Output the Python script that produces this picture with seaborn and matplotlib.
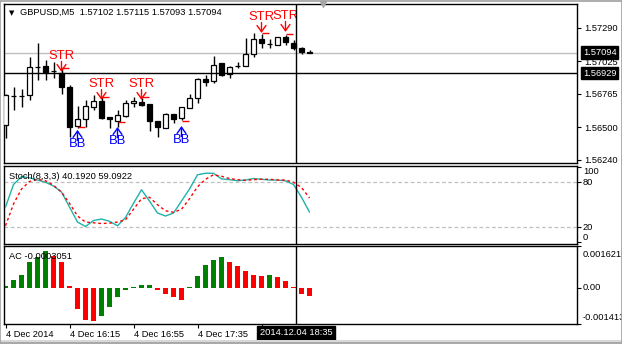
import numpy as np
import pandas as pd
import matplotlib
matplotlib.use("Agg")
import matplotlib.pyplot as plt
import matplotlib.transforms as mtrans
from matplotlib.patches import Rectangle
import seaborn as sns

# ---------------- data ----------------
bar_index = list(range(39))
opens = [1.56518, 1.56749, 1.56749, 1.56757, 1.56979, 1.56987, 1.56948, 1.56932, 1.56820, 1.56510,
         1.56566, 1.56661, 1.56709, 1.56582, 1.56550, 1.56590, 1.56693, 1.56701, 1.56685, 1.56550,
         1.56494, 1.56606, 1.56574, 1.56653, 1.56733, 1.56884, 1.56868, 1.57011, 1.56924, 1.56987,
         1.56987, 1.57083, 1.57202, 1.57162, 1.57154, 1.57218, 1.57170, 1.57130, 1.57102]
highs = [1.56765, 1.56820, 1.56804, 1.57059, 1.57170, 1.57035, 1.57019, 1.56971, 1.56836, 1.56669,
         1.56717, 1.56757, 1.56741, 1.56582, 1.56638, 1.56717, 1.56741, 1.56733, 1.56685, 1.56550,
         1.56614, 1.56606, 1.56661, 1.56765, 1.56892, 1.56916, 1.57067, 1.57011, 1.56987, 1.57019,
         1.57210, 1.57250, 1.57242, 1.57202, 1.57218, 1.57234, 1.57194, 1.57138, 1.57115]
lows = [1.56415, 1.56638, 1.56661, 1.56717, 1.56876, 1.56876, 1.56892, 1.56765, 1.56423, 1.56494,
        1.56502, 1.56638, 1.56566, 1.56494, 1.56502, 1.56582, 1.56661, 1.56669, 1.56471, 1.56423,
        1.56494, 1.56534, 1.56558, 1.56653, 1.56693, 1.56828, 1.56852, 1.56908, 1.56892, 1.56971,
        1.56987, 1.57059, 1.57130, 1.57130, 1.57154, 1.57154, 1.57115, 1.57083, 1.57093]
closes = [1.56757, 1.56751, 1.56747, 1.56979, 1.56981, 1.56940, 1.56946, 1.56820, 1.56502, 1.56566,
          1.56669, 1.56709, 1.56574, 1.56566, 1.56598, 1.56693, 1.56709, 1.56677, 1.56550, 1.56502,
          1.56606, 1.56566, 1.56661, 1.56733, 1.56884, 1.56860, 1.56995, 1.56916, 1.56979, 1.56989,
          1.57083, 1.57202, 1.57170, 1.57160, 1.57218, 1.57178, 1.57130, 1.57099, 1.57094]

stoch_main = [47, 77, 87.5, 86, 83, 80, 75, 67, 47, 27, 21, 29, 31, 28, 22, 33, 52, 70, 55, 39,
              35, 39, 55, 71, 90, 92, 92, 84.5, 83.5, 82, 83, 85, 84, 83, 83, 82, 77, 60, 40.192]
stoch_signal = [22, 51, 71, 81, 84, 82, 76, 67, 52, 35, 27, 26, 25, 25.5, 27, 30, 44, 58, 60, 50,
                42, 40, 44, 58, 74, 84, 90, 88, 85, 83.5, 82.5, 83.5, 84, 84, 83, 83, 80, 73, 59.092]

ac_values = [0.00007, 0.00030, 0.00051, 0.00101, 0.00121, 0.00144, 0.00124, 0.00101, 0.00006, -0.00082,
             -0.00124, -0.00129, -0.00109, -0.00074, -0.00035, -0.00008, 0.00003, 0.00010, 0.00011, -0.00008,
             -0.00023, -0.00035, -0.00047, 0.00002, 0.00047, 0.00089, 0.00109, 0.00121, 0.00101, 0.00086,
             0.00066, 0.00048, 0.00047, 0.00048, 0.00043, 0.00027, 0.00002, -0.00024, -0.000305]

price_ticks = [1.56240, 1.56500, 1.56765, 1.57025, 1.57290]
price_labels = ["1.56240", "1.56500", "1.56765", "1.57025", "1.57290"]
time_tick_bars = [0, 8, 16, 24, 32]
time_tick_labels = ["4 Dec 2014", "4 Dec 16:15", "4 Dec 16:55", "4 Dec 17:35", ""]

str_bars = [7, 12, 17, 32, 35]
str_prices = [1.56940, 1.56717, 1.56717, 1.57250, 1.57258]
bb_bars = [9, 14, 22]
bb_prices = [1.56479, 1.56502, 1.56510]
dash_bars = [7, 12, 17, 32, 35, 9, 14, 22]
dash_prices = [1.56971, 1.56741, 1.56741, 1.57250, 1.57242, 1.56502, 1.56542, 1.56550]

title_text = "GBPUSD,M5  1.57102 1.57115 1.57093 1.57094"
stoch_text = "Stoch(8,3,3) 40.1920 59.0922"
ac_text = "AC -0.0003051"
bid_price = 1.57094
cross_price = 1.56929
cross_bar = 36.3
cross_time = "2014.12.04 18:35"

# ---------------- style ----------------
sns.set_style("white")
plt.rcParams["font.family"] = ["Liberation Sans", "DejaVu Sans"]
FS = 6.7

W, H = 622, 344
fig = plt.figure(figsize=(W / 100, H / 100), dpi=100)
fig.patch.set_facecolor("white")

def axes_px(left, top, right, bottom):
    return fig.add_axes([left / W, 1 - bottom / H, (right - left) / W, (bottom - top) / H])

ax1 = axes_px(4, 4, 577, 163)
ax2 = axes_px(4, 166, 577, 244)
ax3 = axes_px(4, 246, 577, 324)

xlim = (-0.1875, -0.1875 + 573 / 8)

for ax in (ax1, ax2, ax3):
    ax.set_facecolor("white")
    for s in ax.spines.values():
        s.set_color("black")
        s.set_linewidth(1.0)
    ax.yaxis.tick_right()
    ax.tick_params(axis="y", direction="out", length=3, width=0.8, pad=2,
                   labelsize=FS, colors="black", left=False, right=True)
    ax.tick_params(axis="x", bottom=False, labelbottom=False)

# ---------------- main candle panel ----------------
ax1.axhline(bid_price, color="#c0c0c0", lw=1.0, zorder=1)
o = np.array(opens); c = np.array(closes)
body_bottom = np.minimum(o, c)
body_h = np.maximum(np.abs(c - o), 1e-7)
body_col = ["white" if cc > oo else "black" for oo, cc in zip(o, c)]
ax1.vlines(bar_index, lows, highs, color="black", lw=1.0, zorder=2)
ax1.bar(bar_index, body_h, bottom=body_bottom, width=0.6, color=body_col,
        edgecolor="black", linewidth=0.9, zorder=3)
ax1.axhline(cross_price, color="black", lw=1.0, zorder=4)

for b, p in zip(dash_bars, dash_prices):
    ax1.hlines(p, b + 0.1, b + 0.9, color="#ff0000", lw=1.0, zorder=4)

arrow_kw = dict(arrowstyle="->,head_length=0.45,head_width=0.32", lw=1.0,
                mutation_scale=10, shrinkA=0, shrinkB=0)
for b, p in zip(str_bars, str_prices):
    ax1.annotate("", xy=(b, p), xytext=(0, 7.5), textcoords="offset points",
                 arrowprops=dict(color="#ff0000", **arrow_kw), zorder=5)
    ax1.annotate("STR", xy=(b, p), xytext=(0, 11.5), textcoords="offset points",
                 ha="center", va="center", color="#ff0000", fontsize=9.4, zorder=5)
for b, p in zip(bb_bars, bb_prices):
    ax1.annotate("", xy=(b, p), xytext=(0, -7.5), textcoords="offset points",
                 arrowprops=dict(color="#0000ff", **arrow_kw), zorder=5)
    ax1.annotate("BB", xy=(b, p), xytext=(0, -9.8), textcoords="offset points",
                 ha="center", va="center", color="#0000ff", fontsize=9.4, zorder=5)

ax1.set_xlim(*xlim)
ax1.set_ylim(1.56216, 1.57480)
ax1.set_yticks(price_ticks)
ax1.set_yticklabels(price_labels)

bt1 = mtrans.blended_transform_factory(ax1.transAxes, ax1.transData)
for val, txt in ((bid_price, "1.57094"), (cross_price, "1.56929")):
    ax1.text(1.0105, val, txt, transform=bt1, ha="left", va="center", fontsize=FS,
             color="white", zorder=10, clip_on=False,
             bbox=dict(boxstyle="square,pad=0.18", fc="black", ec="black"))

ax1.text(0.009, 0.945, "\u25BC", transform=ax1.transAxes, fontsize=5,
         family="DejaVu Sans", ha="left", va="center", color="black")
ax1.text(0.028, 0.945, title_text, transform=ax1.transAxes, fontsize=FS,
         ha="left", va="center", color="black")
ax1.plot([39.7], [1.0], marker="v", ms=5, color="#a8a8a8", clip_on=False,
         transform=mtrans.blended_transform_factory(ax1.transData, ax1.transAxes), zorder=6)

# ---------------- stochastic panel ----------------
ax2.axhline(80, color="#c0c0c0", lw=0.9, ls=(0, (3, 2)), zorder=1)
ax2.axhline(20, color="#c0c0c0", lw=0.9, ls=(0, (3, 2)), zorder=1)
sns.lineplot(x=bar_index, y=stoch_main, color="#20B2AA", lw=1.0, ax=ax2, zorder=3)
sns.lineplot(x=bar_index, y=stoch_signal, color="#ff0000", lw=1.0,
             linestyle=(0, (2, 2)), ax=ax2, zorder=3)
ax2.set_xlim(*xlim)
ax2.set_ylim(-2.3, 101.7)
ax2.set_yticks([0, 20, 80, 100])
ax2.set_yticklabels([])
ax2.set_xlabel(""); ax2.set_ylabel("")
bt2 = mtrans.blended_transform_factory(ax2.transAxes, ax2.transData)
for v, t, va in ((100, "100", "top"), (80, "80", "center"), (20, "20", "center"), (0, "0", "bottom")):
    ax2.text(1.0105, v, t, transform=bt2, ha="left", va=va, fontsize=FS, color="black")
ax2.text(0.008, 0.86, stoch_text, transform=ax2.transAxes, fontsize=FS,
         ha="left", va="center", color="black", zorder=6)

# ---------------- AC panel ----------------
ac_dir = ["up" if (i == 0 or ac_values[i] > ac_values[i - 1]) else "down" for i in range(len(ac_values))]
df_ac = pd.DataFrame({"bar": bar_index, "ac": ac_values, "dir": ac_dir})
sns.barplot(data=df_ac, x="bar", y="ac", hue="dir", palette={"up": "#008000", "down": "#ff0000"},
            native_scale=True, dodge=False, width=0.62, errorbar=None, legend=False,
            linewidth=0, saturation=1, ax=ax3)
ax3.set_xlim(*xlim)
ax3.set_ylim(-0.001413, 0.001621)
ax3.set_yticks([-0.001413, 0.0, 0.001621])
ax3.set_yticklabels([])
ax3.set_xlabel(""); ax3.set_ylabel("")
bt3 = mtrans.blended_transform_factory(ax3.transAxes, ax3.transAxes)
bt3d = mtrans.blended_transform_factory(ax3.transAxes, ax3.transData)
ax3.text(1.0105, 0.955, "0.001621", transform=bt3, ha="left", va="top", fontsize=FS, color="black")
ax3.text(1.0105, 0.0, "0.00", transform=bt3d, ha="left", va="center", fontsize=FS, color="black")
ax3.text(1.0105, 0.03, "-0.001413", transform=bt3, ha="left", va="bottom", fontsize=FS, color="black")
ax3.text(0.008, 0.86, ac_text, transform=ax3.transAxes, fontsize=FS,
         ha="left", va="center", color="black", zorder=6)

ax3.set_xticks(time_tick_bars)
ax3.set_xticklabels(time_tick_labels)
ax3.tick_params(axis="x", bottom=True, labelbottom=True, direction="out", length=3,
                width=0.8, pad=1.5, labelsize=FS, colors="black")
for lbl in ax3.get_xticklabels():
    lbl.set_horizontalalignment("left")

bx = mtrans.blended_transform_factory(ax3.transData, ax3.transAxes)
ax3.text(cross_bar, -0.115, cross_time, transform=bx, ha="center", va="center",
         fontsize=FS, color="white", zorder=10, clip_on=False,
         bbox=dict(boxstyle="square,pad=0.25", fc="black", ec="black"))

# crosshair vertical line
for ax in (ax1, ax2, ax3):
    ax.axvline(cross_bar, color="black", lw=1.0, zorder=7)

# window frame
fig.patches.append(Rectangle((0, 0), 1, 4 / H, transform=fig.transFigure,
                             fc="#d8d8d8", ec="none", zorder=0))
fig.patches.append(Rectangle((0.0008, 0.0015), 0.9984, 0.997, transform=fig.transFigure,
                             fill=False, ec="#a0a0a0", lw=1.2, zorder=10))

fig.savefig("out.png", dpi=100)
